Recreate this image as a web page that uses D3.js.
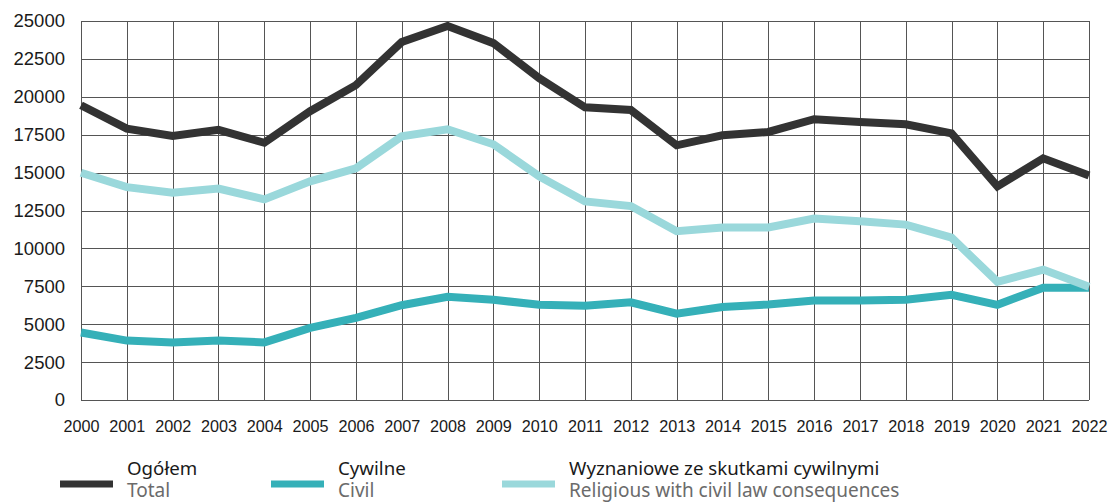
<!DOCTYPE html>
<html>
<head>
<meta charset="utf-8">
<script src="https://cdn.jsdelivr.net/npm/d3@7"></script>
<style>
  body { margin: 0; background: #fff; }
  svg { display: block; font-family: "Noto Sans", sans-serif; }
  .grid line { stroke: #555; stroke-width: 1; shape-rendering: crispEdges; }
  .axis text { fill: #1a1a1a; }
</style>
</head>
<body>
<div id="chart"></div>
<script>
var years = [2000, 2001, 2002, 2003, 2004, 2005, 2006, 2007, 2008, 2009, 2010,
    2011, 2012, 2013, 2014, 2015, 2016, 2017, 2018, 2019, 2020, 2021, 2022];

var ogolem = [19440, 17900, 17420, 17820, 16970, 19050, 20770, 23610, 24670, 23540, 21230,
    19310, 19130, 16800, 17460, 17680, 18520, 18340, 18190, 17590, 14090, 15940, 14810];

var cywilne = [4450, 3920, 3790, 3920, 3800, 4760, 5420, 6250, 6810, 6610, 6280,
    6220, 6440, 5690, 6130, 6300, 6570, 6570, 6610, 6940, 6280, 7410, 7410];

var wyznaniowe = [14990, 14040, 13670, 13950, 13230, 14420, 15280, 17390, 17860, 16870, 14750,
    13100, 12790, 11130, 11380, 11380, 11970, 11790, 11570, 10710, 7800, 8600, 7470];

var yTicks = [0, 2500, 5000, 7500, 10000, 12500, 15000, 17500, 20000, 22500, 25000];

var series = [
    { pl: "Ogółem", en: "Total", values: ogolem, color: "#333333" },
    { pl: "Cywilne", en: "Civil", values: cywilne, color: "#35b0b8" },
    { pl: "Wyznaniowe ze skutkami cywilnymi", en: "Religious with civil law consequences", values: wyznaniowe, color: "#9ad8db" }
];

var width = 1111,
    height = 503,
    margin = { left: 81, right: 22, top: 21, bottom: 103 };

var svg = d3.select("#chart")
    .append("svg")
    .attr("width", width)
    .attr("height", height);

var x = d3.scaleLinear()
    .domain([years[0], years[years.length - 1]])
    .range([margin.left, width - margin.right]);

var y = d3.scaleLinear()
    .domain([0, 25000])
    .range([height - margin.bottom, margin.top]);

// grid
var grid = svg.append("g").attr("class", "grid");
grid.selectAll("line.h")
    .data(yTicks)
    .enter().append("line")
    .attr("class", "h")
    .attr("x1", x.range()[0]).attr("x2", x.range()[1])
    .attr("y1", function (d) { return Math.round(y(d)) + 0.5; })
    .attr("y2", function (d) { return Math.round(y(d)) + 0.5; });
grid.selectAll("line.v")
    .data(years)
    .enter().append("line")
    .attr("class", "v")
    .attr("y1", y.range()[0]).attr("y2", y.range()[1])
    .attr("x1", function (d) { return Math.round(x(d)) + 0.5; })
    .attr("x2", function (d) { return Math.round(x(d)) + 0.5; });

// axes
var yAxis = svg.append("g")
    .attr("class", "axis")
    .attr("transform", "translate(" + (margin.left - 16) + ",0)")
    .call(d3.axisLeft(y).tickValues(yTicks).tickSize(0).tickPadding(0).tickFormat(d3.format("d")));
yAxis.select(".domain").remove();
yAxis.selectAll("text").style("font-size", "18.5px");

var xAxis = svg.append("g")
    .attr("class", "axis")
    .attr("transform", "translate(0," + (height - margin.bottom + 20) + ")")
    .call(d3.axisBottom(x).tickValues(years).tickSize(0).tickPadding(0).tickFormat(d3.format("d")));
xAxis.select(".domain").remove();
xAxis.selectAll("text").style("font-size", "16.2px");

// lines
var line = d3.line()
    .x(function (d, i) { return x(years[i]); })
    .y(function (d) { return y(d); });

svg.append("g")
    .selectAll("path")
    .data(series)
    .enter().append("path")
    .attr("fill", "none")
    .attr("stroke", function (d) { return d.color; })
    .attr("stroke-width", 8)
    .attr("stroke-linejoin", "miter")
    .attr("d", function (d) { return line(d.values); });

// legend
var legendX = [60, 271, 502];
var legend = svg.append("g")
    .selectAll("g")
    .data(series)
    .enter().append("g")
    .attr("transform", function (d, i) { return "translate(" + legendX[i] + ",484)"; });

legend.append("line")
    .attr("x1", 0).attr("x2", 53)
    .attr("stroke", function (d) { return d.color; })
    .attr("stroke-width", 7);

legend.append("text")
    .attr("x", 67).attr("y", -9)
    .style("font-size", "18.7px")
    .attr("fill", "#1a1a1a")
    .text(function (d) { return d.pl; });

legend.append("text")
    .attr("x", 67).attr("y", 13)
    .style("font-size", "19px")
    .attr("fill", "#6b6b6b")
    .text(function (d) { return d.en; });
</script>
</body>
</html>
